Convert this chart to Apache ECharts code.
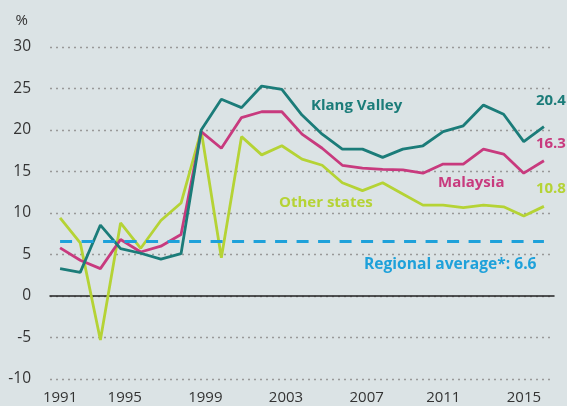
<!DOCTYPE html>
<html>
<head>
<meta charset="utf-8">
<script src="https://cdn.jsdelivr.net/npm/echarts@6/dist/echarts.min.js"></script>
<style>
  html, body { margin: 0; padding: 0; background: #dbe3e5; }
  #chart { width: 567px; height: 406px; }
</style>
</head>
<body>
<div id="chart"></div>
<script>
const years = ['1991', '1992', '1993', '1994', '1995', '1996', '1997', '1998', '1999', '2000',
  '2001', '2002', '2003', '2004', '2005', '2006', '2007', '2008', '2009', '2010',
  '2011', '2012', '2013', '2014', '2015']
const klangValley = [3.3, 2.85, 8.55, 5.7, 5.15, 4.45, 5.1, 20.0, 23.7, 22.7,
  25.3, 24.9, 21.8, 19.5, 17.7, 17.7, 16.7, 17.7, 18.1, 19.8,
  20.5, 23.0, 21.9, 18.6, 20.4]
const malaysia = [5.8, 4.3, 3.3, 6.8, 5.3, 6.0, 7.4, 19.8, 17.8, 21.5,
  22.2, 22.2, 19.5, 17.8, 15.75, 15.4, 15.25, 15.2, 14.8, 15.9,
  15.9, 17.7, 17.1, 14.8, 16.3]
const otherStates = [9.4, 6.4, -5.3, 8.8, 5.75, 9.1, 11.2, 19.9, 4.6, 19.2,
  17.0, 18.1, 16.5, 15.75, 13.65, 12.7, 13.65, 12.3, 10.95, 10.95,
  10.65, 10.95, 10.75, 9.65, 10.8]
const regionalAvg = 6.6

const TEAL = '#1b7c79'
const PINK = '#c83a7e'
const LIME = '#b5d335'
const BLUE = '#1ea1da'
const FONT = '"Open Sans", "Noto Sans", sans-serif'

let myChart = echarts.init(document.getElementById('chart'))

let option = {
  backgroundColor: '#dbe3e5',
  animation: false,
  grid: { left: 50, right: 13, top: 47, bottom: 27 },
  xAxis: [{
    // zero line with ticks
    type: 'category',
    data: years,
    boundaryGap: true,
    axisLine: { onZero: true, lineStyle: { color: '#222', width: 1.5 } },
    axisTick: {
      interval: function (i) { return i > 0 && i % 4 === 0 },
      length: 5,
      lineStyle: { color: '#222', width: 1.5 }
    },
    axisLabel: { show: false },
    splitLine: { show: false }
  }, {
    // labels at the bottom
    type: 'category',
    data: years,
    position: 'bottom',
    boundaryGap: true,
    axisLine: { show: false, onZero: false },
    axisTick: { show: false },
    splitLine: { show: false },
    axisLabel: {
      interval: 3,
      margin: 11,
      color: '#333',
      fontSize: 15,
      fontFamily: FONT,
      formatter: function (v, i) {
        if (i === 0) return v
        return i >= 20 ? '{e|' + v + '}' : '{s|' + v + '}'
      },
      rich: {
        s: { padding: [0, 32, 0, 0], color: '#333', fontSize: 15, fontFamily: FONT },
        e: { padding: [0, 40, 0, 0], color: '#333', fontSize: 15, fontFamily: FONT }
      }
    }
  }],
  yAxis: {
    type: 'value',
    min: -10,
    max: 30,
    interval: 5,
    name: '%',
    nameLocation: 'end',
    nameGap: 19,
    nameTextStyle: { color: '#333', fontSize: 15, fontFamily: FONT, align: 'right', padding: [0, 22, 0, 0] },
    axisLine: { show: false },
    axisTick: { show: false },
    axisLabel: { color: '#333', fontSize: 15.5, fontFamily: FONT, margin: 19 },
    splitLine: { lineStyle: { color: '#999', width: 1.3, type: [2, 4] } }
  },
  series: [{
    name: 'Other states',
    type: 'line',
    data: otherStates,
    symbol: 'none',
    lineStyle: { color: LIME, width: 2.8 },
    endLabel: {
      show: true, formatter: '{c}', offset: [-16, -18],
      color: LIME, fontSize: 15, fontWeight: 'bold', fontFamily: FONT
    },
    markLine: {
      silent: true,
      symbol: 'none',
      label: { show: false },
      lineStyle: { color: BLUE, width: 3, type: [12, 9.5] },
      data: [[{ coord: ['1991', regionalAvg] }, { coord: ['2015', regionalAvg] }]]
    }
  }, {
    name: 'Malaysia',
    type: 'line',
    data: malaysia,
    symbol: 'none',
    lineStyle: { color: PINK, width: 2.8 },
    endLabel: {
      show: true, formatter: '{c}', offset: [-16, -17],
      color: PINK, fontSize: 15, fontWeight: 'bold', fontFamily: FONT
    }
  }, {
    name: 'Klang Valley',
    type: 'line',
    data: klangValley,
    symbol: 'none',
    lineStyle: { color: TEAL, width: 2.8 },
    endLabel: {
      show: true, formatter: '{c}', offset: [-16, -26],
      color: TEAL, fontSize: 15, fontWeight: 'bold', fontFamily: FONT
    }
  }],
  graphic: [
    { type: 'text', left: 311, top: 98, style: { text: 'Klang Valley', fill: TEAL, fontSize: 15, fontWeight: 'bold', fontFamily: FONT } },
    { type: 'text', left: 438, top: 175, style: { text: 'Malaysia', fill: PINK, fontSize: 15, fontWeight: 'bold', fontFamily: FONT } },
    { type: 'text', left: 279, top: 195, style: { text: 'Other states', fill: LIME, fontSize: 15, fontWeight: 'bold', fontFamily: FONT } },
    { type: 'text', left: 364, top: 257, style: { text: 'Regional average*: 6.6', fill: BLUE, fontSize: 15.6, fontWeight: 'bold', fontFamily: FONT } }
  ]
}

myChart.setOption(option)
</script>
</body>
</html>
